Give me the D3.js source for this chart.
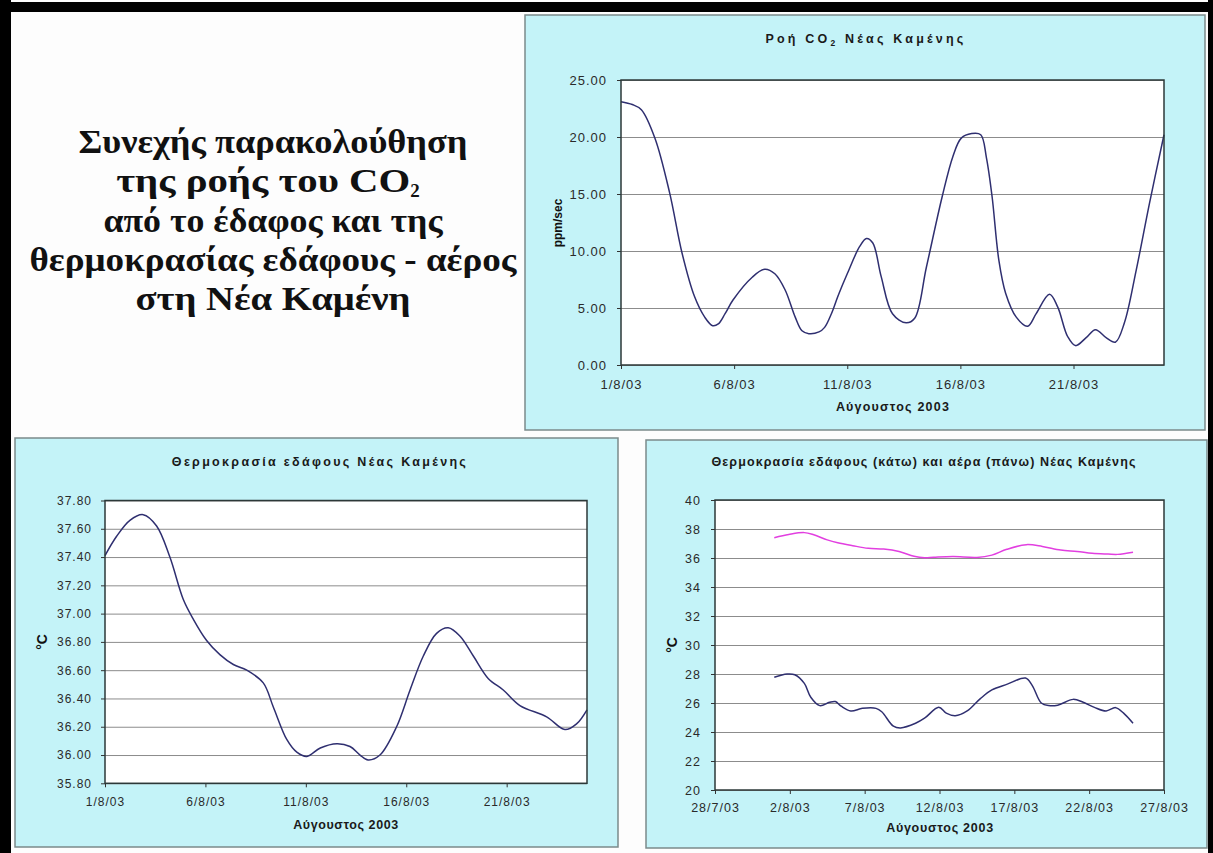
<!DOCTYPE html>
<html><head><meta charset="utf-8">
<script src="https://cdn.jsdelivr.net/npm/d3@7"></script>
<style>
body{margin:0;background:#fff;}
svg{display:block;}
text{font-family:"Liberation Sans",Arial,sans-serif;}
</style></head><body>
<svg id="c" width="1213" height="853"></svg>
<script>
// ---------- DATA ----------
// CO2 flux, days of August 2003 (fractional) and ppm/sec
const co2Days = [1,1.5,1.9,2.5,3.15,3.7,4.25,4.7,5.05,5.3,5.6,5.95,6.8,7.35,7.8,8.25,8.7,9.0,9.3,9.75,10.0,10.3,10.6,11.0,11.55,11.85,12.13,12.5,13.0,13.6,13.98,14.5,15.2,15.67,16.04,16.5,16.9,17.15,17.4,17.7,18.0,18.47,18.97,19.35,19.94,20.3,20.74,21.09,21.56,21.97,22.44,22.85,23.25,23.77,24.36,25.0];
const co2Values = [23.1,22.85,22.4,19.9,15.1,9.8,6.0,4.2,3.45,3.6,4.5,5.7,7.7,8.4,8.0,6.6,4.2,3.0,2.75,2.9,3.3,4.5,6.1,8.0,10.4,11.1,10.7,7.75,4.5,3.7,4.1,8.6,14.8,18.3,19.9,20.3,20.2,18.2,14.8,9.2,6.3,4.2,3.4,4.5,6.2,5.1,2.5,1.7,2.4,3.1,2.4,2.0,3.7,8.3,14.2,20.2];

// Soil temperature (°C)
const soilDays = [1,1.57,2.24,2.9,3.57,4.23,4.9,5.4,6.06,6.72,7.39,8.06,8.88,9.38,10.05,10.55,11.05,11.72,12.55,13.2,13.7,14.1,14.69,15.52,16.19,16.85,17.51,18.09,18.68,19.34,20.09,20.83,21.66,22.99,23.9,24.48,25.0];
const soilValues = [37.41,37.545,37.66,37.70,37.62,37.40,37.10,36.96,36.81,36.71,36.64,36.60,36.51,36.34,36.11,36.02,35.99,36.05,36.08,36.06,36.0,35.965,36.0,36.2,36.46,36.70,36.86,36.90,36.84,36.70,36.54,36.46,36.35,36.27,36.18,36.22,36.32];

// Combined chart: soil (lower) and air (upper) temperature
const combSoilDays = [0.96,1.81,2.33,2.97,3.4,4.0,4.65,5.04,5.43,6.07,6.85,7.76,8.14,8.92,9.4,10.4,11.0,11.95,12.45,13.05,13.85,14.73,15.5,16.53,17.75,18.2,18.8,19.3,19.9,20.93,21.6,22.35,23.13,23.77,24.3,24.93];
const combSoilValues = [27.77,28.0,27.95,27.35,26.4,25.82,26.05,26.1,25.78,25.45,25.63,25.63,25.4,24.4,24.28,24.6,24.95,25.7,25.3,25.12,25.45,26.3,26.9,27.3,27.72,27.2,26.0,25.82,25.85,26.25,26.05,25.7,25.45,25.68,25.3,24.6];
const combAirDays = [0.96,1.93,2.97,3.6,4.5,5.2,6.2,7.24,8.27,9.3,10.3,11.0,11.6,12.9,14.5,15.5,16.5,17.8,18.87,20.1,21.2,22.2,23.27,23.9,24.93];
const combAirValues = [37.4,37.62,37.75,37.6,37.25,37.05,36.85,36.67,36.62,36.45,36.12,36.02,36.05,36.1,36.04,36.2,36.6,36.92,36.8,36.55,36.45,36.32,36.27,36.25,36.4];

// Ticks
const co2YTicks = [0,5,10,15,20,25];
const soilYTicks = [35.8,36.0,36.2,36.4,36.6,36.8,37.0,37.2,37.4,37.6,37.8];
const combYTicks = [20,22,24,26,28,30,32,34,36,38,40];
const augTickDays = [1,6,11,16,21];
const combTickDays = [-3,2,7,12,17,22,27];

// ---------- HELPERS ----------
const DAY = 864e5;
const base = new Date(2003,7,1).getTime();
const aug = d => new Date(base + (d-1)*DAY);
const fmtDate = d3.timeFormat("%-d/%-m/%y");
const zip = (ds, vs) => ds.map((d,i)=>({date:aug(d), v:vs[i]}));

const svg = d3.select("#c");
svg.append("rect").attr("width",1213).attr("height",853).attr("fill","#fdfdfd");
// black frame
svg.append("rect").attr("x",0).attr("y",2).attr("width",1213).attr("height",10).attr("fill","#000");
svg.append("rect").attr("x",0).attr("y",0).attr("width",11).attr("height",853).attr("fill","#000");
svg.append("rect").attr("x",1208).attr("y",0).attr("width",5).attr("height",853).attr("fill","#000");

function fit(sel, target){
  const n = sel.text().length;
  const w = sel.node().getComputedTextLength();
  const ls = (target - w)/Math.max(1,n-1);
  sel.style("letter-spacing", ls+"px");
}

function chart(o){
  const g = svg.append("g");
  const [pl,pt,pr,pb] = o.panel;
  g.append("rect").attr("x",pl).attr("y",pt).attr("width",pr-pl).attr("height",pb-pt)
    .attr("fill","#c4f3f8").attr("stroke","#7b8a8b").attr("stroke-width",1.5);
  const [L,T,R,B] = o.plot;
  const x = d3.scaleTime().domain(o.xDomain).range([L,R]);
  const y = d3.scaleLinear().domain(o.yDomain).range([B,T]);
  g.append("rect").attr("x",L).attr("y",T).attr("width",R-L).attr("height",B-T).attr("fill","#fff");
  // gridlines
  g.append("g").attr("transform",`translate(${L},0)`)
    .call(d3.axisLeft(y).tickValues(o.yTicks).tickSize(-(R-L)).tickFormat(""))
    .call(a=>a.select(".domain").remove())
    .call(a=>a.selectAll("line").attr("stroke","#8c8c8c").attr("stroke-width",1));
  // y axis
  g.append("g").attr("transform",`translate(${L},0)`)
    .call(d3.axisLeft(y).tickValues(o.yTicks).tickSize(4).tickPadding(o.yPad).tickFormat(o.yFmt))
    .call(a=>a.select(".domain").remove())
    .call(a=>a.selectAll("line").attr("stroke","#333"))
    .call(a=>a.selectAll("text").attr("font-size",o.fs).attr("fill","#2a2a2a")
       .style("letter-spacing","1px").attr("font-family","Liberation Sans, Arial, sans-serif"));
  // x axis
  g.append("g").attr("transform",`translate(0,${B})`)
    .call(d3.axisBottom(x).tickValues(o.xTicks).tickSize(4).tickPadding(o.xPad).tickFormat(fmtDate))
    .call(a=>a.select(".domain").remove())
    .call(a=>a.selectAll("line").attr("stroke","#333"))
    .call(a=>a.selectAll("text").attr("font-size",o.fs).attr("fill","#2a2a2a")
       .style("letter-spacing","1px").attr("font-family","Liberation Sans, Arial, sans-serif"));
  // series
  const line = d3.line().x(d=>x(d.date)).y(d=>y(d.v)).curve(d3.curveCatmullRom.alpha(0.5));
  o.series.forEach(s=>{
    g.append("path").datum(s.data).attr("d",line).attr("fill","none")
      .attr("stroke",s.color).attr("stroke-width",1.5).attr("stroke-linejoin","round");
  });
  // plot border
  g.append("rect").attr("x",L).attr("y",T).attr("width",R-L).attr("height",B-T)
    .attr("fill","none").attr("stroke","#2c3838").attr("stroke-width",1.5);
  // title
  const t = g.append("text").attr("x",o.title.x).attr("y",o.title.y).attr("text-anchor","middle")
    .attr("font-size",12.5).attr("font-weight","bold").attr("fill","#1a1a1a");
  o.title.parts.forEach(p=>{
    const ts = t.append("tspan").text(p.t);
    if(p.sub){ ts.attr("font-size",8.5).attr("dy",3); }
    if(p.after){ ts.attr("dy",-3); }
  });
  fit(t, o.title.w);
  // x title
  const xt = g.append("text").attr("x",o.xTitle.x).attr("y",o.xTitle.y).attr("text-anchor","middle")
    .attr("font-size",12.5).attr("font-weight","bold").attr("fill","#1a1a1a").text(o.xTitle.t);
  fit(xt, o.xTitle.w);
  // y title
  g.append("text").attr("transform",`translate(${o.yTitle.x},${o.yTitle.y}) rotate(-90)`)
    .attr("text-anchor","middle").attr("dy","0.35em")
    .attr("font-size",o.yTitle.fs).attr("font-weight","bold").attr("fill","#111").text(o.yTitle.t);
}

// ---------- CHARTS ----------
chart({
  panel:[525,15,1205,430], plot:[621,80,1164,365],
  xDomain:[aug(1),aug(25)], xTicks:augTickDays.map(aug),
  yDomain:[0,25], yTicks:co2YTicks, yFmt:d3.format(".2f"),
  fs:13, yPad:10, xPad:11,
  series:[{data:zip(co2Days,co2Values), color:"#2f2f70"}],
  title:{x:866,y:43,w:201,parts:[{t:"Ροή CO"},{t:"2",sub:true},{t:"  Νέας Καμένης",after:true}]},
  xTitle:{x:893,y:411,w:113,t:"Αύγουστος 2003"},
  yTitle:{x:558,y:223,t:"ppm/sec",fs:12}
});
chart({
  panel:[15,438,618,847], plot:[105,500.5,587,783.3],
  xDomain:[aug(1),aug(25)], xTicks:augTickDays.map(aug),
  yDomain:[35.8,37.8], yTicks:soilYTicks, yFmt:d3.format(".2f"),
  fs:12, yPad:9, xPad:10,
  series:[{data:zip(soilDays,soilValues), color:"#2f2f70"}],
  title:{x:320,y:466,w:294,parts:[{t:"Θερμοκρασία εδάφους Νέας Καμένης"}]},
  xTitle:{x:346,y:829,w:105,t:"Αύγουστος 2003"},
  yTitle:{x:42,y:642,t:"°C",fs:14}
});
chart({
  panel:[646,440,1207,848], plot:[715,500,1164,790],
  xDomain:[aug(-3),aug(27)], xTicks:combTickDays.map(aug),
  yDomain:[20,40], yTicks:combYTicks, yFmt:d3.format("d"),
  fs:12.5, yPad:10, xPad:9,
  series:[{data:zip(combAirDays,combAirValues), color:"#e23fe0"},
          {data:zip(combSoilDays,combSoilValues), color:"#2f2f70"}],
  title:{x:924,y:466,w:424,parts:[{t:"Θερμοκρασία εδάφους (κάτω) και αέρα (πάνω) Νέας Καμένης"}]},
  xTitle:{x:940,y:832,w:107,t:"Αύγουστος 2003"},
  yTitle:{x:672,y:645,t:"°C",fs:14}
});

// ---------- MAIN TITLE ----------
const mainLines = ["Συνεχής παρακολούθηση","της ροής του CO","από το έδαφος και της","θερμοκρασίας εδάφους - αέρος","στη Νέα Καμένη"];
const mainWidths = [389, 294, 339, 487, 275];
const mt = svg.append("g").attr("font-weight","bold").attr("font-size",33).attr("fill","#111").attr("text-anchor","middle");
mainLines.forEach((l,i)=>{
  const t = mt.append("text").attr("x", i===1 ? 268 : 273).attr("y",153+i*39.3)
    .style("font-family","Liberation Serif, Times New Roman, serif");
  t.append("tspan").text(l).attr("textLength",mainWidths[i]).attr("lengthAdjust","spacingAndGlyphs");
  if(i===1){ t.append("tspan").attr("font-size",19).attr("dy",5).text("2"); }
});
</script>
</body></html>
